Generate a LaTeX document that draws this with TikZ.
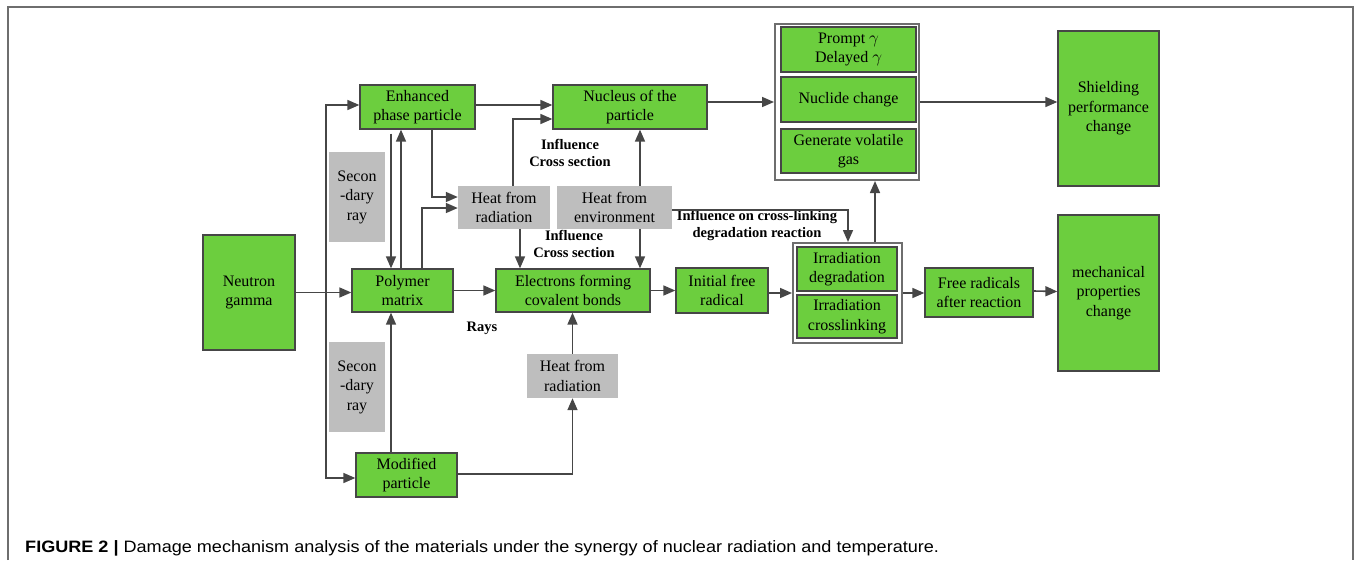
\documentclass[tikz,border=0pt]{standalone}
\usepackage{fontspec}
\setmainfont{Liberation Serif}
\newfontfamily\capfont{Liberation Sans}
\usetikzlibrary{arrows.meta,calc}
\definecolor{boxgreen}{RGB}{108,206,62}
\definecolor{boxgray}{RGB}{190,190,190}
\definecolor{edgegray}{RGB}{70,70,70}
\definecolor{framegray}{RGB}{110,110,110}
\tikzset{
  gbox/.style={draw=edgegray, line width=1.3pt, fill=boxgreen, inner sep=0pt, align=center,
    font=\rmfamily\fontsize{16}{19.5}\selectfont},
  graybox/.style={fill=boxgray, inner sep=0pt, align=center, font=\rmfamily\fontsize{16}{19.5}\selectfont},
  groupbox/.style={draw=framegray, line width=2pt, fill=white, inner sep=0pt},
  arr/.style={draw=edgegray, line width=1.6pt, -{Triangle[length=12pt,width=10pt]}},
  blabel/.style={font=\rmfamily\bfseries\fontsize{14.5}{17}\selectfont, align=center, inner sep=0pt}
}
\begin{document}
\begin{tikzpicture}[x=1pt,y=-1pt]
\useasboundingbox (0,0) rectangle (1354,560);
% outer frame
\draw[framegray, line width=1.5pt] (8,560) -- (8,7) -- (1353,7) -- (1353,560);

% groups
\node[groupbox, minimum width=144pt, minimum height=156pt] (topgroup) at (847,102) {};
\node[groupbox, minimum width=109pt, minimum height=100pt] (irrgroup) at (847.5,293) {};

% green boxes
\node[gbox, minimum width=92pt, minimum height=115pt] (neutron) at (249,292.5) {Neutron\\gamma};
\node[gbox, minimum width=115pt, minimum height=44pt] (enh) at (417.5,107) {Enhanced\\phase particle};
\node[gbox, minimum width=101pt, minimum height=43pt] (poly) at (402.5,290.5) {Polymer\\matrix};
\node[gbox, minimum width=101pt, minimum height=44pt] (mod) at (406.5,475) {Modified\\particle};
\node[gbox, minimum width=154pt, minimum height=44pt] (nucleus) at (630,107) {Nucleus of the\\particle};
\node[gbox, minimum width=154pt, minimum height=43pt] (electrons) at (573,290.5) {Electrons forming\\covalent bonds};
\node[gbox, minimum width=92pt, minimum height=45pt] (initial) at (722,290.5) {Initial free\\radical};
\node[gbox, minimum width=100pt, minimum height=44pt] (irrdeg) at (847,269) {Irradiation\\degradation};
\node[gbox, minimum width=100pt, minimum height=43pt] (irrcross) at (847,316.5) {Irradiation\\crosslinking};
\node[gbox, minimum width=108pt, minimum height=49pt] (free) at (979,292.5) {Free radicals\\after reaction};
\node[gbox, minimum width=101pt, minimum height=156pt] (mech) at (1108.5,293) {mechanical\\properties\\change};
\node[gbox, minimum width=101pt, minimum height=155pt] (shield) at (1108.5,108.5) {Shielding\\performance\\change};
\node[gbox, minimum width=135pt, minimum height=45pt] (prompt) at (848.5,49.5) {Prompt $\gamma$\\Delayed $\gamma$};
\node[gbox, minimum width=135pt, minimum height=45pt] (nuclide) at (848.5,99.5) {Nuclide change};
\node[gbox, minimum width=135pt, minimum height=44pt] (gas) at (848.5,151) {Generate volatile\\gas};

% gray boxes
\node[graybox, minimum width=56pt, minimum height=90pt] (sec1) at (357,197) {Secon\\-dary\\ray};
\node[graybox, minimum width=56pt, minimum height=90pt] (sec2) at (357,387) {Secon\\-dary\\ray};
\node[graybox, minimum width=92pt, minimum height=43pt] (heatrad) at (504,207.5) {Heat from\\radiation};
\node[graybox, minimum width=115pt, minimum height=43pt] (heatenv) at (614.5,207.5) {Heat from\\environment};
\node[graybox, minimum width=91pt, minimum height=44pt] (heatrad2) at (572.5,376) {Heat from\\radiation};

% labels
\node[blabel] (lab1) at (570,153) {Influence\\Cross section};
\node[blabel] (lab2) at (574,244) {Influence\\Cross section};
\node[blabel] (lab3) at (757,225) {Influence on cross-linking\\degradation reaction};
\node[blabel] (lab4) at (482,328) {Rays};

% connectors
\coordinate (split) at (326,292.5);
\draw[arr] (neutron.east) -- (neutron.east -| poly.west);
\draw[arr] (split) |- ($(enh.west)+(0,-2)$);
\draw[arr] (split) |- ($(mod.west)+(0,3)$);
\draw[arr] ($(enh.south)+(-26.5,4)$) -- ($(poly.north)+(-11.5,0)$);
\draw[arr] ($(poly.north)+(-1.5,0)$) -- ($(enh.south)+(-16.5,0)$);
\draw[arr] ($(enh.south)+(14.5,0)$) |- ($(heatrad.west)+(0,-10.5)$);
\draw[arr] ($(poly.north)+(19.5,0)$) |- ($(heatrad.west)+(0,0.5)$);
\draw[arr] ($(enh.east)+(0,-2)$) -- ($(nucleus.west)+(0,-2)$);
\draw[arr] ($(heatrad.north)+(9,0)$) |- ($(nucleus.west)+(0,12)$);
\draw[arr] ($(heatenv.north)+(25.5,0)$) -- ($(nucleus.south)+(10,0)$);
\draw[arr] ($(heatrad.south)+(16,0)$) -- ($(electrons.north)+(-53,0)$);
\draw[arr] ($(heatenv.south)+(25.5,0)$) -- ($(electrons.north)+(67,0)$);
\draw[arr] (poly.east) -- (poly.east -| electrons.west);
\draw[arr] (electrons.east) -- (electrons.east -| initial.west);
\draw[arr] ($(initial.east)+(0,2.5)$) -- (irrgroup.west);
\draw[arr] ($(heatenv.east)+(0,2.5)$) -| ($(irrgroup.north)+(0.5,0)$);
\draw[arr] ($(irrgroup.north)+(27.5,0)$) -- ($(topgroup.south)+(28,0)$);
\draw[arr] (irrgroup.east) -- (irrgroup.east -| free.west);
\draw[arr] ($(free.east)+(0,-1.5)$) -- ($(mech.west)+(0,-1.5)$);
\draw[arr] ($(nucleus.east)+(0,-5)$) -- (topgroup.west);
\draw[arr] (topgroup.east) -- (topgroup.east -| shield.west);
\draw[arr] ($(mod.north)+(-15.5,0)$) -- ($(poly.south)+(-11.5,0)$);
\draw[arr] ($(mod.east)+(0,-1)$) -| (heatrad2.south);
\draw[arr] (heatrad2.north) -- (heatrad2.north |- electrons.south);

% caption
\node[anchor=base west, inner sep=0pt, xscale=1.095, transform shape, font=\capfont\fontsize{16.5}{20}\selectfont] (caption) at (25,552)
  {\textbf{FIGURE 2 |} Damage mechanism analysis of the materials under the synergy of nuclear radiation and temperature.};
\end{tikzpicture}
\end{document}
